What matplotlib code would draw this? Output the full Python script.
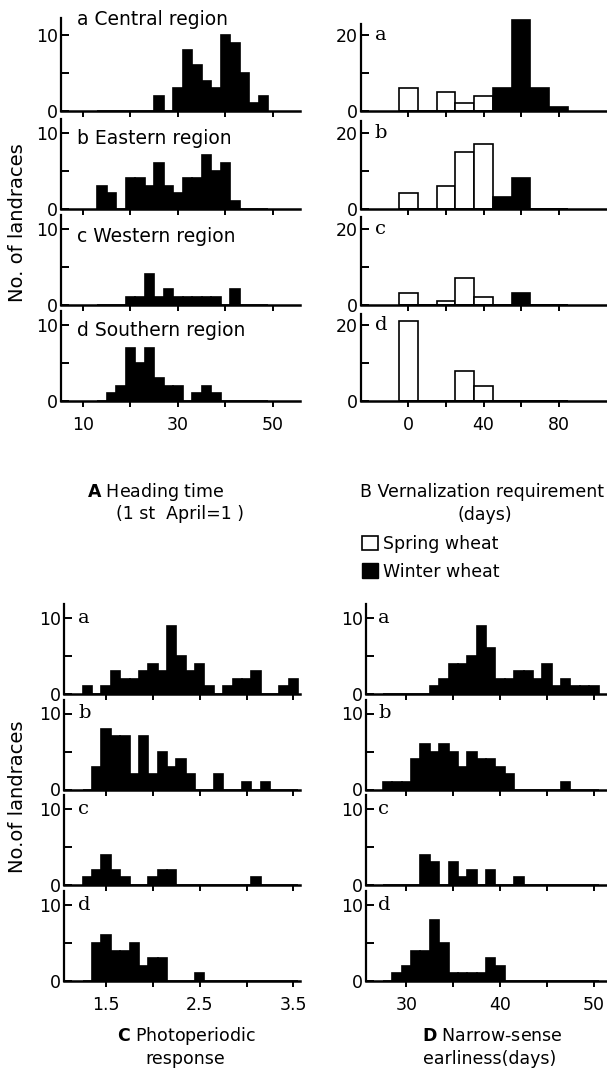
import numpy as np
import matplotlib
matplotlib.use("Agg")
import matplotlib.pyplot as plt
from matplotlib.patches import Patch

plt.rcParams['font.family'] = ['DejaVu Sans']
plt.rcParams['font.size'] = 12

# ---- A: heading time (1st April = 1), 2-day classes
heading_classes = [14, 16, 18, 20, 22, 24, 26, 28, 30, 32, 34, 36, 38, 40, 42, 44, 46, 48]
heading_central = [0, 0, 0, 0, 0, 0, 2, 0, 3, 8, 6, 4, 3, 10, 9, 5, 1, 2]
heading_eastern = [3, 2, 0, 4, 4, 3, 6, 3, 2, 4, 4, 7, 5, 6, 1, 0, 0, 0]
heading_western = [0, 0, 0, 1, 1, 4, 1, 2, 1, 1, 1, 1, 1, 0, 2, 0, 0, 0]
heading_southern = [0, 1, 2, 7, 5, 7, 3, 2, 2, 0, 1, 2, 1, 0, 0, 0, 0, 0]

# ---- B: vernalization requirement (days), 10-day classes
vern_classes = [0, 10, 20, 30, 40, 50, 60, 70, 80]
vern_spring_a = [6, 0, 5, 2, 4, 0, 0, 0, 0]
vern_spring_b = [4, 0, 6, 15, 17, 0, 0, 0, 0]
vern_spring_c = [3, 0, 1, 7, 2, 0, 0, 0, 0]
vern_spring_d = [21, 0, 0, 8, 4, 0, 0, 0, 0]
vern_winter_a = [0, 0, 0, 0, 0, 6, 24, 6, 1]
vern_winter_b = [0, 0, 0, 0, 0, 3, 8, 0, 0]
vern_winter_c = [0, 0, 0, 0, 0, 0, 3, 0, 0]
vern_winter_d = [0, 0, 0, 0, 0, 0, 0, 0, 0]

# ---- C: photoperiodic response, 0.1 classes
photo_classes = [1.3, 1.4, 1.5, 1.6, 1.7, 1.8, 1.9, 2.0, 2.1, 2.2, 2.3, 2.4,
                 2.5, 2.6, 2.7, 2.8, 2.9, 3.0, 3.1, 3.2, 3.3, 3.4, 3.5]
photo_a = [1, 0, 1, 3, 2, 2, 3, 4, 3, 9, 5, 3, 4, 1, 0, 1, 2, 2, 3, 0, 0, 1, 2]
photo_b = [0, 3, 8, 7, 7, 2, 7, 2, 5, 3, 4, 2, 0, 0, 2, 0, 0, 1, 0, 1, 0, 0, 0]
photo_c = [1, 2, 4, 2, 1, 0, 0, 1, 2, 2, 0, 0, 0, 0, 0, 0, 0, 0, 1, 0, 0, 0, 0]
photo_d = [0, 5, 6, 4, 4, 5, 2, 3, 3, 0, 0, 0, 1, 0, 0, 0, 0, 0, 0, 0, 0, 0, 0]

# ---- D: narrow-sense earliness (days), 1-day classes
earli_classes = [28, 29, 30, 31, 32, 33, 34, 35, 36, 37, 38, 39,
                 40, 41, 42, 43, 44, 45, 46, 47, 48, 49, 50]
earli_a = [0, 0, 0, 0, 0, 1, 2, 4, 4, 5, 9, 6, 2, 2, 3, 3, 2, 4, 1, 2, 1, 1, 1]
earli_b = [1, 1, 1, 4, 6, 5, 6, 5, 3, 5, 4, 4, 3, 2, 0, 0, 0, 0, 0, 1, 0, 0, 0]
earli_c = [0, 0, 0, 0, 4, 3, 0, 3, 1, 2, 0, 2, 0, 0, 1, 0, 0, 0, 0, 0, 0, 0, 0]
earli_d = [0, 1, 2, 4, 4, 8, 5, 1, 1, 1, 1, 3, 2, 0, 0, 0, 0, 0, 0, 0, 0, 0, 0]

region_letters = ['a', 'b', 'c', 'd']
region_names = ['Central region', 'Eastern region', 'Western region', 'Southern region']

W, H = 607, 1071
fig = plt.figure(figsize=(W / 100, H / 100), dpi=100)
fig.patch.set_facecolor('white')

top_bases = [111, 208.5, 304.5, 401]
bot_bases = [694, 789.5, 885, 981]


def make_ax(x0, x1, base, ylo, yhi, scale, xlim, xticks, xlabels, yticks, ylabels,
            spine_top, show_xlabels):
    bottom = base - ylo * scale
    top = base - yhi * scale
    ax = fig.add_axes([x0 / W, 1 - bottom / H, (x1 - x0) / W, (bottom - top) / H])
    ax.patch.set_alpha(0)
    ax.set_xlim(*xlim)
    ax.set_ylim(ylo, yhi)
    for s in ['top', 'right']:
        ax.spines[s].set_visible(False)
    ax.spines['left'].set_bounds(0, spine_top)
    ax.spines['left'].set_linewidth(1.6)
    ax.spines['bottom'].set_linewidth(1.8)
    ax.spines['bottom'].set_position(('data', 0))
    ax.set_xticks(xticks)
    ax.set_xticklabels(xlabels if show_xlabels else [''] * len(xticks))
    ax.set_yticks(yticks)
    ax.set_yticklabels(ylabels)
    ax.tick_params(axis='x', direction='out', length=4, width=1.4, pad=7, labelsize=12.5)
    ax.tick_params(axis='y', direction='in', length=6, width=1.4, pad=2, labelsize=12.5)
    return ax


def fill_bars(ax, classes, counts, width, face='black'):
    ax.bar(classes, counts, width=width, align='center', color=face,
           edgecolor='black', linewidth=1.2)


heading_sets = [heading_central, heading_eastern, heading_western, heading_southern]
spring_sets = [vern_spring_a, vern_spring_b, vern_spring_c, vern_spring_d]
winter_sets = [vern_winter_a, vern_winter_b, vern_winter_c, vern_winter_d]
photo_sets = [photo_a, photo_b, photo_c, photo_d]
earli_sets = [earli_a, earli_b, earli_c, earli_d]

label_heights = [12.1, 9.2, 8.9, 9.3]

for i in range(4):
    last = i == 3
    # A
    ax = make_ax(61, 300, top_bases[i], -0.3, 12.6, 7.6, (5.4, 55.7),
                 [10, 20, 30, 40, 50], ['10', '', '30', '', '50'],
                 [0, 5, 10], ['0', '', '10'], 12.3 if i == 0 else 11.8, last)
    fill_bars(ax, heading_classes, heading_sets[i], 2)
    ax.text(8.8, label_heights[i], region_letters[i] + ' ' + region_names[i],
            ha='left', va='center', fontsize=13.5)

    # B
    ax = make_ax(361, 606, top_bases[i], -0.6, 25.2, 3.8, (-25.2, 105.2),
                 [0, 20, 40, 60, 80], ['0', '', '40', '', '80'],
                 [0, 10, 20], ['0', '', '20'], 23, last)
    fill_bars(ax, vern_classes, spring_sets[i], 10, face='white')
    fill_bars(ax, vern_classes, winter_sets[i], 10, face='black')
    ax.text(-17.8, 20, region_letters[i], ha='left', va='center',
            fontsize=14, family='DejaVu Serif')

    # C
    ax = make_ax(64, 300, bot_bases[i], -0.3, 12.6, 7.6, (1.05, 3.57),
                 [1.5, 2.0, 2.5, 3.0, 3.5], ['1.5', '', '2.5', '', '3.5'],
                 [0, 5, 10], ['0', '', '10'], 11.8, last)
    fill_bars(ax, photo_classes, photo_sets[i], 0.1)
    ax.text(1.2, 10, region_letters[i], ha='left', va='center',
            fontsize=14, family='DejaVu Serif')

    # D
    ax = make_ax(366, 606, bot_bases[i], -0.3, 12.6, 7.6, (25.7, 51.3),
                 [30, 35, 40, 45, 50], ['30', '', '40', '', '50'],
                 [0, 5, 10], ['0', '', '10'], 11.8, last)
    fill_bars(ax, earli_classes, earli_sets[i], 1)
    ax.text(27.0, 10, region_letters[i], ha='left', va='center',
            fontsize=14, family='DejaVu Serif')


def ftext(x, y, s, size=12.5, **kw):
    fig.text(x / W, 1 - y / H, s, va='center', fontsize=size, **kw)


ftext(18, 223, 'No. of landraces', size=14, rotation=90, ha='center')
ftext(18, 797, 'No.of landraces', size=14, rotation=90, ha='center')

ftext(87, 492, r'$\mathbf{A}$ Heading time', ha='left')
ftext(116, 514, '(1 st  April=1 )', ha='left')
ftext(482, 492, 'B Vernalization requirement', ha='center')
ftext(485, 515, '(days)', ha='center')
ftext(186, 1036, r'$\mathbf{C}$ Photoperiodic', ha='center')
ftext(185, 1059, 'response', ha='center')
ftext(492, 1036, r'$\mathbf{D}$ Narrow-sense', ha='center')
ftext(490, 1059, 'earliness(days)', ha='center')

handles = [Patch(facecolor='white', edgecolor='black', linewidth=1.2),
           Patch(facecolor='black', edgecolor='black')]
fig.legend(handles, ['Spring wheat', 'Winter wheat'], loc='upper left',
           bbox_to_anchor=(362 / W, 1 - 535 / H), frameon=False, fontsize=12.5,
           handlelength=0.9, handleheight=0.9, handletextpad=0.3,
           labelspacing=0.55, borderpad=0, borderaxespad=0)

fig.savefig('out.png', dpi=100, facecolor='white')
